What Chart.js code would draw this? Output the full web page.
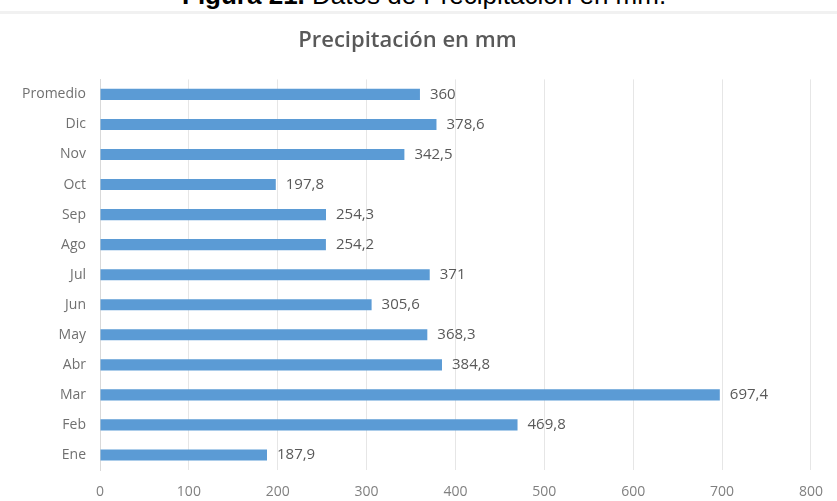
<!DOCTYPE html>
<html>
<head>
<meta charset="utf-8">
<title>Precipitación en mm</title>
<script src="https://cdn.jsdelivr.net/npm/chart.js@4.4.1/dist/chart.umd.min.js"></script>
<style>
  html, body { margin: 0; padding: 0; background: #fff; }
  body { width: 837px; height: 501px; position: relative; overflow: hidden; }
  #caption {
    position: absolute; left: 182px; top: -18px;
    font: 26px "Liberation Sans", Arial, sans-serif; line-height: 26px;
    color: #000; white-space: nowrap;
  }
  #rule { position: absolute; left: 0; top: 11px; width: 837px; height: 3px; background: #f1f1f1; }
  #wrap { position: absolute; left: 0; top: 0; width: 837px; height: 501px; }
</style>
</head>
<body>
<div id="caption"><b>Figura 21.</b> Datos de Precipitación en mm.</div>
<div id="rule"></div>
<div id="wrap"><canvas id="chart"></canvas></div>
<script>
// Monthly rainfall, bottom to top
const categories = ["Ene", "Feb", "Mar", "Abr", "May", "Jun", "Jul", "Ago", "Sep", "Oct", "Nov", "Dic", "Promedio"];
const rainfall = [187.9, 469.8, 697.4, 384.8, 368.3, 305.6, 371, 254.2, 254.3, 197.8, 342.5, 378.6, 360];
const xTicks = [0, 100, 200, 300, 400, 500, 600, 700, 800];

const labelFont = '"Open Sans", "DejaVu Sans", sans-serif';

// writes the value just past the end of each bar, decimal comma
const barValues = {
  id: "barValues",
  afterDatasetsDraw(chart) {
    const ctx = chart.ctx;
    const meta = chart.getDatasetMeta(0);
    ctx.save();
    ctx.font = "15px " + labelFont;
    ctx.fillStyle = "#595959";
    ctx.textAlign = "left";
    ctx.textBaseline = "middle";
    meta.data.forEach((bar, i) => {
      const txt = String(rainfall[i]).replace(".", ",");
      ctx.fillText(txt, bar.x + 10, bar.y);
    });
    ctx.restore();
  }
};

new Chart(document.getElementById("chart"), {
  type: "bar",
  data: {
    labels: categories,
    datasets: [{
      data: rainfall,
      backgroundColor: "#5b9bd5",
      barPercentage: 0.37,
      categoryPercentage: 1
    }]
  },
  options: {
    indexAxis: "y",
    responsive: true,
    maintainAspectRatio: false,
    animation: false,
    layout: { padding: { left: 0, right: 22, top: 0, bottom: 0 } },
    plugins: {
      legend: { display: false },
      tooltip: { enabled: false },
      title: {
        display: true,
        text: "Precipitación en mm",
        color: "#595959",
        font: { family: labelFont, size: 22, weight: "600" },
        padding: { top: 28, bottom: 25 }
      }
    },
    scales: {
      x: {
        min: 0,
        max: 800,
        afterBuildTicks: (scale) => { scale.ticks = xTicks.map(v => ({ value: v })); },
        afterFit: (scale) => { scale.height = 31; },
        grid: { color: "#e6e6e6", drawTicks: false },
        border: { display: false },
        ticks: { color: "#808080", padding: 14, font: { family: labelFont, size: 14 } }
      },
      y: {
        reverse: true,
        afterFit: (scale) => { scale.width = 100; },
        grid: { display: false, drawTicks: false },
        border: { color: "#d9d9d9" },
        ticks: { color: "#707070", padding: 14, font: { family: labelFont, size: 14 } }
      }
    }
  },
  plugins: [barValues]
});
</script>
</body>
</html>
